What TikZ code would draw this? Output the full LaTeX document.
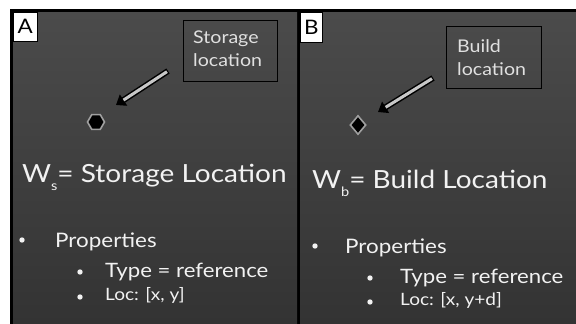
\documentclass[tikz,border=0pt]{standalone}
\usepackage{fontspec}
\setmainfont{Lato}[FakeStretch=1.12]
\usetikzlibrary{shapes.geometric,arrows.meta}
\definecolor{paneltop}{HTML}{4B4B4B}
\definecolor{panelbot}{HTML}{333333}
\definecolor{txt}{HTML}{F2F2F2}
\definecolor{lbl}{HTML}{E0E0E0}
\definecolor{shaft}{HTML}{C8C8C8}
\definecolor{rim}{HTML}{A0A0A0}
\tikzset{
  txtnode/.style={anchor=base west, inner sep=0pt, text=txt},
  head/.style={txtnode, font=\fontsize{25}{28}\selectfont},
  lvlone/.style={txtnode, font=\fontsize{20}{24}\selectfont},
  lvltwo/.style={txtnode, font=\fontsize{19.8}{22}\selectfont},
  lvlthree/.style={txtnode, font=\fontsize{17}{20}\selectfont},
  bul/.style={circle, fill=txt, inner sep=0pt, minimum size=5.4pt},
  lblbox/.style={draw=black, line width=1pt, inner sep=0pt, anchor=north west},
  lbltext/.style={anchor=base west, inner sep=0pt, text=lbl, font=\fontsize{17.5}{20}\selectfont},
  tag/.style={fill=white, draw=black, line width=1.5pt, inner sep=0pt, anchor=north west, font=\fontsize{20}{22}\selectfont},
  bigarrow/.style={black, line width=6pt, -{Triangle[length=9pt,width=13pt]}},
  arrowfill/.style={shaft, line width=3pt, shorten >=9pt, shorten <=1.2pt},
}
\begin{document}
\begin{tikzpicture}[x=1pt,y=-1pt]
\useasboundingbox (0,0) rectangle (576,324);
\fill[white] (0,0) rectangle (576,324);
\fill[black] (10,9) rectangle (576,324);
\shade[top color=paneltop, bottom color=panelbot] (13,12) rectangle (297,324);
\shade[top color=paneltop, bottom color=panelbot] (300,12) rectangle (576,324);
% tags
\node[tag, minimum width=24pt, minimum height=29pt] (tagA) at (12.5,11.5) {A};
\node[tag, minimum width=22pt, minimum height=30pt] (tagB) at (299.5,11.5) {B};
% panel A
\node[lblbox, minimum width=94pt, minimum height=61pt] (boxA) at (183,20) {};
\node[lbltext] (boxAt1) at (193,43) {Storage};
\node[lbltext] (boxAt2) at (193,66) {location};
\node[regular polygon, regular polygon sides=6, minimum size=17pt, inner sep=0pt, fill=black, draw=rim, line width=1.6pt] (hex) at (96,122) {};
\coordinate (tailA) at (168,71);
\coordinate (tipA) at (116,105);
\draw[bigarrow] (tailA) -- (tipA);
\draw[arrowfill] (tailA) -- (tipA);
\node[head] (wsA) at (22,182) {W\raisebox{-0.35em}{\fontsize{13}{13}\selectfont s}= Storage Location};
\node[bul] (b1A) at (22,240) {};
\node[lvlone] (propA) at (55,247) {Properties};
\node[bul] (b2A) at (80,272) {};
\node[lvltwo] (typeA) at (105,277) {Type = reference};
\node[bul] (b3A) at (80,297) {};
\node[lvlthree] (locA) at (105,300) {Loc: [x, y]};
% panel B
\node[lblbox, minimum width=95pt, minimum height=62pt] (boxB) at (446,26) {};
\node[lbltext] (boxBt1) at (457,52) {Build};
\node[lbltext] (boxBt2) at (457,75) {location};
\node[diamond, minimum width=16pt, minimum height=19pt, inner sep=0pt, fill=black, draw=rim, line width=1.6pt] (dia) at (358,125) {};
\coordinate (tailB) at (433,78);
\coordinate (tipB) at (378,112);
\draw[bigarrow] (tailB) -- (tipB);
\draw[arrowfill] (tailB) -- (tipB);
\node[head] (wbB) at (312,188) {W\raisebox{-0.35em}{\fontsize{13}{13}\selectfont b}= Build Location};
\node[bul] (b1B) at (315,246) {};
\node[lvlone] (propB) at (345,253) {Properties};
\node[bul] (b2B) at (370,278) {};
\node[lvltwo] (typeB) at (400,283) {Type = reference};
\node[bul] (b3B) at (370,302) {};
\node[lvlthree] (locB) at (400,305) {Loc: [x, y+d]};
\end{tikzpicture}
\end{document}
